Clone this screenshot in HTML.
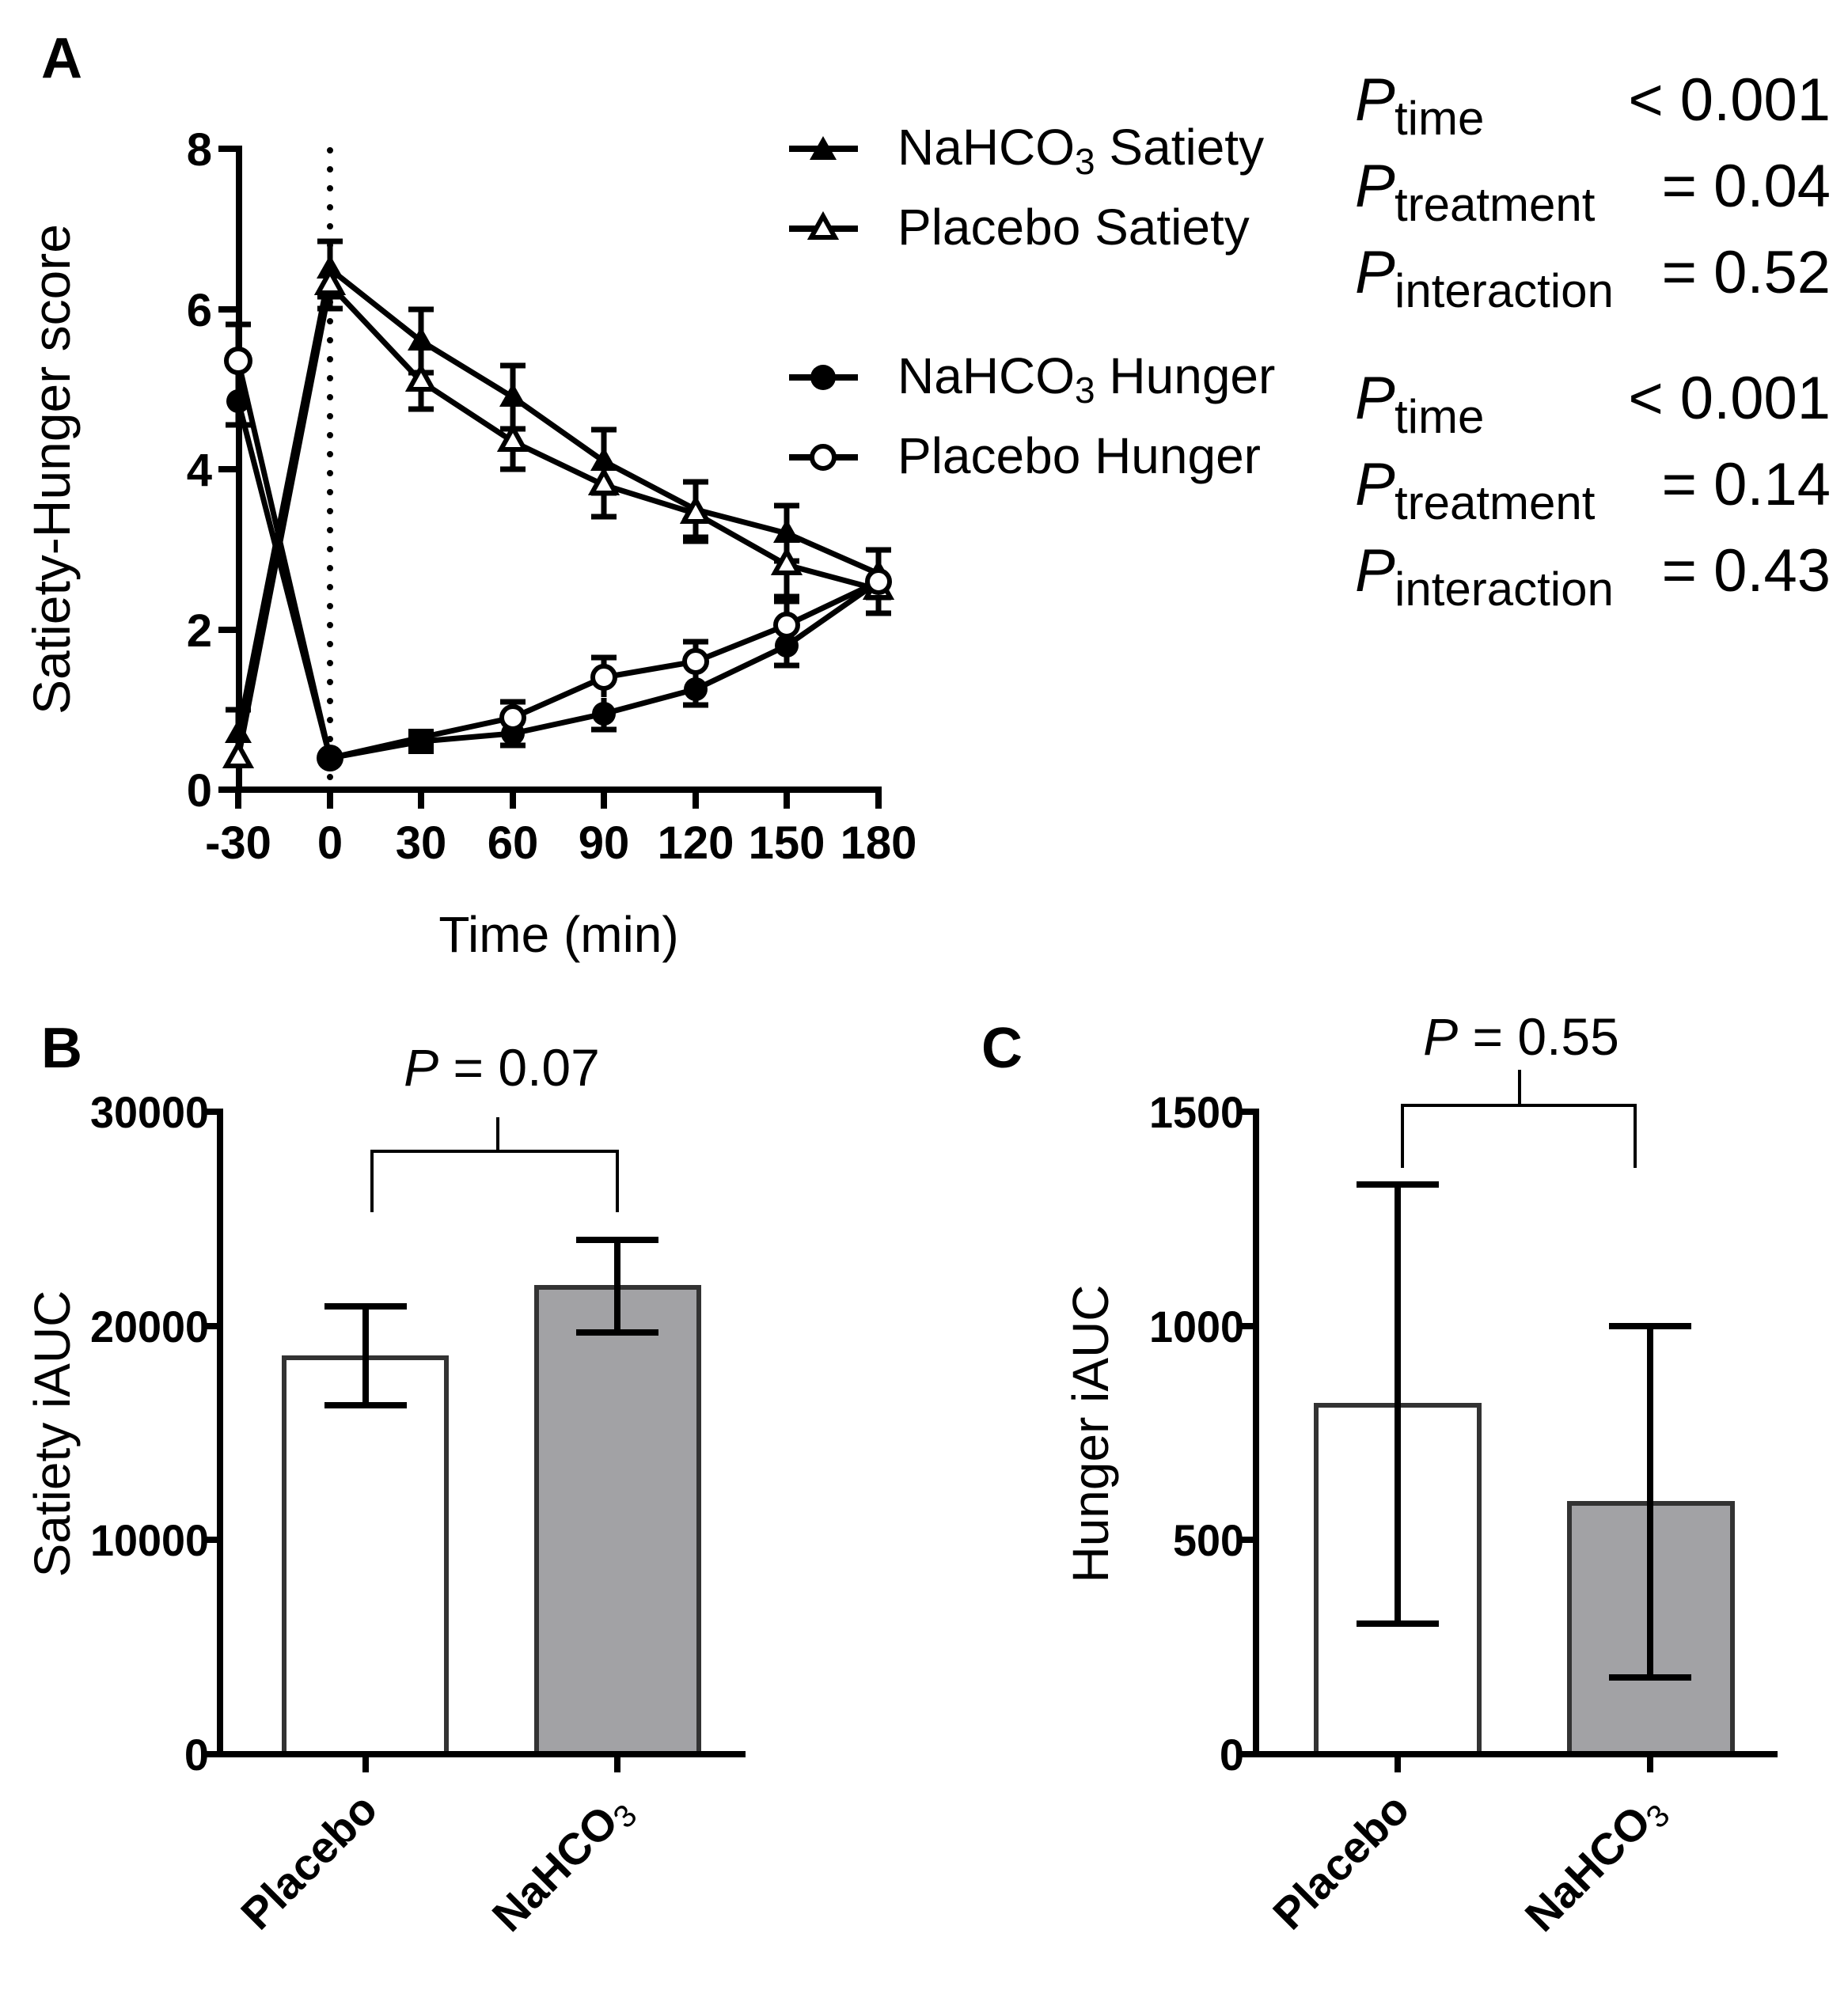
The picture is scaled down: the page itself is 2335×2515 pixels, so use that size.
<!DOCTYPE html>
<html><head><meta charset="utf-8"><style>
html,body{margin:0;padding:0;background:#fff;}
svg{display:block;}
text{font-family:"Liberation Sans",Arial,sans-serif;fill:#000;}
.tk{font-family:"DejaVu Sans","Liberation Sans",sans-serif;font-weight:bold;font-size:58px;}
.tkb{font-family:"Liberation Sans",sans-serif;font-weight:bold;font-size:56px;}
.xl{font-family:"Liberation Sans",sans-serif;font-weight:bold;font-size:56px;}
</style></head><body>
<svg width="2335" height="2515" viewBox="0 0 2335 2515" xmlns="http://www.w3.org/2000/svg">
<rect width="2335" height="2515" fill="#fff"/>
<text x="52" y="98" font-size="72" font-weight="bold">A</text>
<text x="52" y="1349" font-size="72" font-weight="bold">B</text>
<text x="1240" y="1349" font-size="72" font-weight="bold">C</text>

<!-- ===== Panel A ===== -->
<g stroke="#000" stroke-width="8" fill="none">
<line x1="302" y1="184" x2="302" y2="1002"/>
<line x1="298" y1="998" x2="1114" y2="998"/>
<line x1="276" y1="188" x2="302" y2="188"/>
<line x1="276" y1="391" x2="302" y2="391"/>
<line x1="276" y1="593" x2="302" y2="593"/>
<line x1="276" y1="796" x2="302" y2="796"/>
<line x1="276" y1="998" x2="302" y2="998"/>
<line x1="301" y1="998" x2="301" y2="1022"/>
<line x1="417" y1="998" x2="417" y2="1022"/>
<line x1="532" y1="998" x2="532" y2="1022"/>
<line x1="648" y1="998" x2="648" y2="1022"/>
<line x1="763" y1="998" x2="763" y2="1022"/>
<line x1="879" y1="998" x2="879" y2="1022"/>
<line x1="994" y1="998" x2="994" y2="1022"/>
<line x1="1110" y1="998" x2="1110" y2="1022"/>
</g>
<line x1="417" y1="190" x2="417" y2="995" stroke="#000" stroke-width="8" stroke-linecap="round" stroke-dasharray="0 24"/>
<g class="tk" text-anchor="end">
<text x="268" y="209">8</text><text x="268" y="412">6</text><text x="268" y="614">4</text><text x="268" y="817">2</text><text x="268" y="1019">0</text>
</g>
<g class="tk" text-anchor="middle">
<text x="301" y="1085">-30</text><text x="417" y="1085">0</text><text x="532" y="1085">30</text><text x="648" y="1085">60</text><text x="763" y="1085">90</text><text x="879" y="1085">120</text><text x="994" y="1085">150</text><text x="1110" y="1085">180</text>
</g>
<text x="706" y="1203" font-size="64" text-anchor="middle">Time (min)</text>
<text transform="translate(88,593) rotate(-90)" font-size="66" text-anchor="middle">Satiety-Hunger score</text>

<g stroke="#000" stroke-width="7" fill="none">
<path d="M301 897V957M285 897H317M417 305V375M401 305H433M401 375H433M532 391V471M516 391H548M516 471H548M648 462V542M632 462H664M632 542H664M763 543V623M747 543H779M747 623H779M879 609V679M863 609H895M863 679H895M994 639V709M978 639H1010M978 709H1010M1110 695V755M1094 695H1126M1094 755H1126"/>
<path d="M417 330V390M401 390H433M532 447V517M516 517H548M648 523V593M632 593H664M763 573V653M747 653H779M879 614V684M863 684H895M994 674V754M978 754H1010M1110 715V775M1094 775H1126"/>
<path d="M301 477V537M285 537H317M648 912V942M632 942H664M763 882V922M747 922H779M879 851V891M863 891H895M994 791V841M978 841H1010"/>
<path d="M301 410V502M285 410H317M648 887V927M632 887H664M763 831V881M747 831H779M879 811V861M863 811H895M994 760V820M978 760H1010"/>
</g>
<g stroke="#000" stroke-width="7" fill="none" stroke-linejoin="round">
<polyline points="301,927 417,340 532,431 648,502 763,583 879,644 994,674 1110,725"/>
<polyline points="301,958 417,360 532,482 648,558 763,613 879,649 994,714 1110,745"/>
<polyline points="301,507 417,958 532,937 648,927 763,902 879,871 994,816 1110,735"/>
<polyline points="301,456 417,958 532,932 648,907 763,856 879,836 994,790 1110,735"/>
</g>
<g fill="#000">
<path d="M301 909l-17 30h34z"/><path d="M417 322l-17 30h34z"/><path d="M532 413l-17 30h34z"/><path d="M648 484l-17 30h34z"/><path d="M763 565l-17 30h34z"/><path d="M879 626l-17 30h34z"/><path d="M994 656l-17 30h34z"/><path d="M1110 707l-17 30h34z"/>
</g>
<g fill="#fff" stroke="#000" stroke-width="6">
<path d="M301 941l-15 27h30z"/><path d="M417 343l-15 27h30z"/><path d="M532 465l-15 27h30z"/><path d="M648 541l-15 27h30z"/><path d="M763 596l-15 27h30z"/><path d="M879 632l-15 27h30z"/><path d="M994 697l-15 27h30z"/><path d="M1110 728l-15 27h30z"/>
</g>
<g fill="#000">
<circle cx="301" cy="507" r="15"/><circle cx="417" cy="958" r="17"/><rect x="516" y="921" width="32" height="32"/><circle cx="648" cy="927" r="15"/><circle cx="763" cy="902" r="15"/><circle cx="879" cy="871" r="15"/><circle cx="994" cy="816" r="15"/><circle cx="1110" cy="735" r="15"/>
</g>
<g fill="#fff" stroke="#000" stroke-width="6">
<circle cx="301" cy="456" r="15"/><circle cx="648" cy="907" r="14"/><circle cx="763" cy="856" r="14"/><circle cx="879" cy="836" r="14"/><circle cx="994" cy="790" r="14"/><circle cx="1110" cy="735" r="14"/>
</g>

<g stroke="#000" stroke-width="8">
<line x1="997" y1="188" x2="1084" y2="188"/><line x1="997" y1="289" x2="1084" y2="289"/><line x1="997" y1="477" x2="1084" y2="477"/><line x1="997" y1="578" x2="1084" y2="578"/>
</g>
<path d="M1040 172l-17 30h34z" fill="#000"/>
<path d="M1040 273l-15 27h30z" fill="#fff" stroke="#000" stroke-width="6"/>
<circle cx="1040" cy="477" r="16" fill="#000"/>
<circle cx="1040" cy="578" r="14" fill="#fff" stroke="#000" stroke-width="6"/>
<g font-size="64">
<text x="1134" y="208">NaHCO<tspan font-size="46" dy="12">3</tspan><tspan dy="-12"> Satiety</tspan></text>
<text x="1134" y="309">Placebo Satiety</text>
<text x="1134" y="497">NaHCO<tspan font-size="46" dy="12">3</tspan><tspan dy="-12"> Hunger</tspan></text>
<text x="1134" y="598">Placebo Hunger</text>
</g>

<g font-size="76">
<text x="1712" y="152" font-style="italic">P</text><text x="1762" y="170" font-size="60">time</text>
<text x="2313" y="152" text-anchor="end">&lt; 0.001</text>
<text x="1712" y="261" font-style="italic">P</text><text x="1762" y="279" font-size="60">treatment</text>
<text x="2313" y="261" text-anchor="end">= 0.04</text>
<text x="1712" y="370" font-style="italic">P</text><text x="1762" y="388" font-size="60">interaction</text>
<text x="2313" y="370" text-anchor="end">= 0.52</text>
<text x="1712" y="529" font-style="italic">P</text><text x="1762" y="547" font-size="60">time</text>
<text x="2313" y="529" text-anchor="end">&lt; 0.001</text>
<text x="1712" y="638" font-style="italic">P</text><text x="1762" y="656" font-size="60">treatment</text>
<text x="2313" y="638" text-anchor="end">= 0.14</text>
<text x="1712" y="747" font-style="italic">P</text><text x="1762" y="765" font-size="60">interaction</text>
<text x="2313" y="747" text-anchor="end">= 0.43</text>
</g>

<!-- ===== Panel B ===== -->
<rect x="359" y="1716" width="205" height="501" fill="#fff" stroke="#333" stroke-width="6"/>
<rect x="678" y="1627" width="205" height="590" fill="#a2a2a5" stroke="#333" stroke-width="6"/>
<g stroke="#000" stroke-width="8" fill="none">
<line x1="278" y1="1401" x2="278" y2="2221"/>
<line x1="274" y1="2217" x2="942" y2="2217"/>
<line x1="256" y1="1405" x2="278" y2="1405"/><line x1="256" y1="1676" x2="278" y2="1676"/><line x1="256" y1="1946" x2="278" y2="1946"/><line x1="256" y1="2217" x2="278" y2="2217"/>
<line x1="462" y1="2217" x2="462" y2="2240"/><line x1="780" y1="2217" x2="780" y2="2240"/>
<path d="M462 1651V1776M410 1651H514M410 1776H514M780 1567V1684M728 1567H832M728 1684H832"/>
</g>
<path d="M470 1532V1455H780V1532M629 1455V1412" stroke="#000" stroke-width="4" fill="none"/>
<text x="634" y="1372" font-size="66" text-anchor="middle"><tspan font-style="italic">P</tspan> = 0.07</text>
<g class="tkb" text-anchor="end">
<text x="264" y="1425" textLength="150" lengthAdjust="spacingAndGlyphs">30000</text><text x="264" y="1696" textLength="150" lengthAdjust="spacingAndGlyphs">20000</text><text x="264" y="1966" textLength="150" lengthAdjust="spacingAndGlyphs">10000</text><text x="264" y="2237">0</text>
</g>
<text transform="translate(88,1812) rotate(-90)" font-size="64" text-anchor="middle">Satiety iAUC</text>
<text class="xl" transform="translate(480,2290) rotate(-45)" text-anchor="end">Placebo</text>
<text class="xl" transform="translate(800,2290) rotate(-45)" text-anchor="end">NaHCO<tspan font-size="40" font-weight="normal" dy="10">3</tspan></text>

<!-- ===== Panel C ===== -->
<rect x="1663" y="1776" width="206" height="441" fill="#fff" stroke="#333" stroke-width="6"/>
<rect x="1983" y="1900" width="206" height="317" fill="#a2a2a5" stroke="#333" stroke-width="6"/>
<g stroke="#000" stroke-width="8" fill="none">
<line x1="1587" y1="1401" x2="1587" y2="2221"/>
<line x1="1583" y1="2217" x2="2246" y2="2217"/>
<line x1="1565" y1="1405" x2="1587" y2="1405"/><line x1="1565" y1="1676" x2="1587" y2="1676"/><line x1="1565" y1="1946" x2="1587" y2="1946"/><line x1="1565" y1="2217" x2="1587" y2="2217"/>
<line x1="1766" y1="2217" x2="1766" y2="2240"/><line x1="2085" y1="2217" x2="2085" y2="2240"/>
<path d="M1766 1497V2052M1714 1497H1818M1714 2052H1818M2085 1676V2120M2033 1676H2137M2033 2120H2137"/>
</g>
<path d="M1772 1476V1397H2066V1476M1920 1397V1352" stroke="#000" stroke-width="4" fill="none"/>
<text x="1922" y="1333" font-size="66" text-anchor="middle"><tspan font-style="italic">P</tspan> = 0.55</text>
<g class="tkb" text-anchor="end">
<text x="1572" y="1425" textLength="120" lengthAdjust="spacingAndGlyphs">1500</text><text x="1572" y="1696" textLength="120" lengthAdjust="spacingAndGlyphs">1000</text><text x="1572" y="1966" textLength="90" lengthAdjust="spacingAndGlyphs">500</text><text x="1572" y="2237">0</text>
</g>
<text transform="translate(1400,1812) rotate(-90)" font-size="64" text-anchor="middle">Hunger iAUC</text>
<text class="xl" transform="translate(1784,2290) rotate(-45)" text-anchor="end">Placebo</text>
<text class="xl" transform="translate(2105,2290) rotate(-45)" text-anchor="end">NaHCO<tspan font-size="40" font-weight="normal" dy="10">3</tspan></text>
</svg>
</body></html>
